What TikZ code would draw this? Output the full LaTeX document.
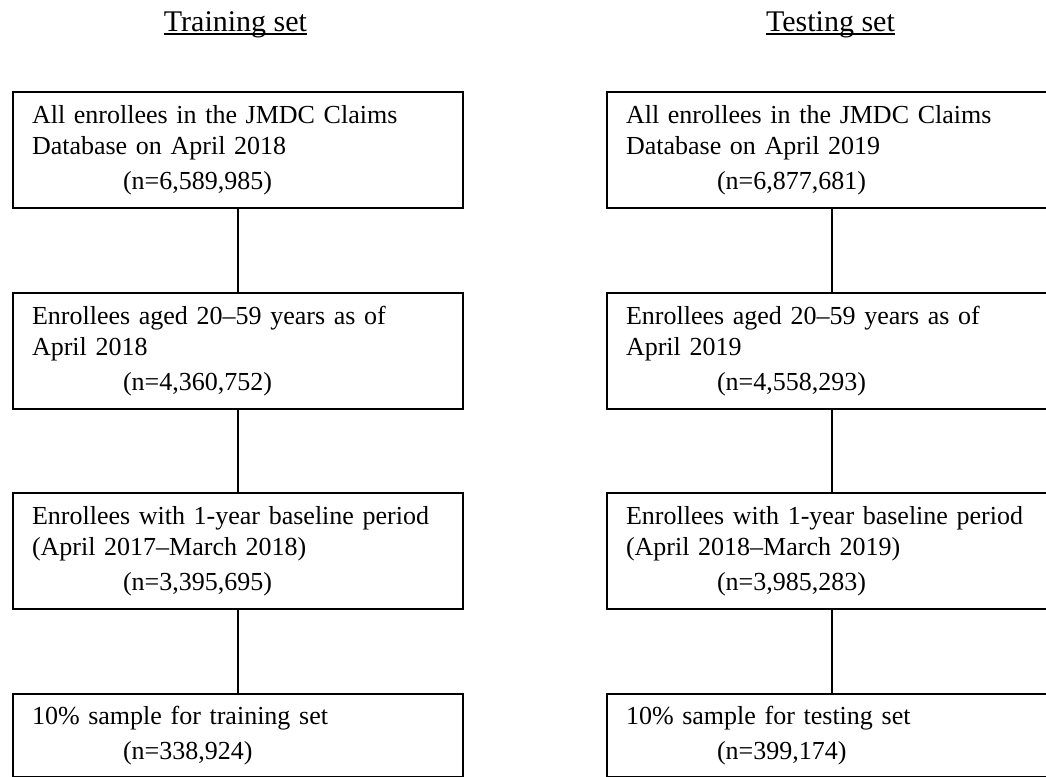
\documentclass[tikz,border=0pt]{standalone}
\usepackage{fontspec}
\setmainfont{Liberation Serif}
\usetikzlibrary{positioning}

\tikzset{
  stagebox/.style={draw, line width=2pt, anchor=north west,
    minimum width=450pt, minimum height=116pt, text width=412pt,
    inner xsep=19pt, inner ysep=0pt, align=left,
    font=\fontsize{26}{31}\selectfont},
  lastbox/.style={stagebox, minimum height=83pt},
  link/.style={line width=2pt},
  setlabel/.style={inner sep=0pt, anchor=base, font=\fontsize{30}{36}\selectfont},
  underbar/.style={line width=1.3pt}
}
\newcommand{\countline}[1]{\\[4pt]\hspace*{91pt}(n=#1)}

\begin{document}
\begin{tikzpicture}[x=1pt,y=-1pt]
          \useasboundingbox (0,0) rectangle (1046,776);
          \clip (0,0) rectangle (1046,776);

          % headers
          \draw (235.5,31.5) node[setlabel] (trainhead) {Training set};

          \draw (830.5,31.5) node[setlabel] (testhead) {Testing set};

          \draw[underbar] ([yshift=-2.5pt]trainhead.base west) --
          ([yshift=-2.5pt]trainhead.base east);

          \draw[underbar] ([yshift=-2.5pt]testhead.base west) --
          ([yshift=-2.5pt]testhead.base east);

          % training set
          \draw (12,91) node[stagebox] (trainall)
          {All enrollees in the JMDC Claims\\Database on April 2018\countline{6,589,985}};

          \draw (12,292) node[stagebox] (trainage)
          {Enrollees aged 20--59 years as of\\April 2018\countline{4,360,752}};

          \draw (12,492) node[stagebox] (trainbase)
          {Enrollees with 1-year baseline period\\(April 2017--March 2018)\countline{3,395,695}};

          \draw (12,693) node[lastbox] (trainsample)
          {10\% sample for training set\countline{338,924}};

          % testing set
          \draw (606,91) node[stagebox] (testall)
          {All enrollees in the JMDC Claims\\Database on April 2019\countline{6,877,681}};

          \draw (606,292) node[stagebox] (testage)
          {Enrollees aged 20--59 years as of\\April 2019\countline{4,558,293}};

          \draw (606,492) node[stagebox] (testbase)
          {Enrollees with 1-year baseline period\\(April 2018--March 2019)\countline{3,985,283}};

          \draw (606,693) node[lastbox] (testsample)
          {10\% sample for testing set\countline{399,174}};

          \draw[link] (trainall.south) -- (trainage.north);
          \draw[link] (trainage.south) -- (trainbase.north);
          \draw[link] (trainbase.south) -- (trainsample.north);

          \draw[link] (testall.south) -- (testage.north);
          \draw[link] (testage.south) -- (testbase.north);
          \draw[link] (testbase.south) -- (testsample.north);
        \end{tikzpicture}
\end{document}
